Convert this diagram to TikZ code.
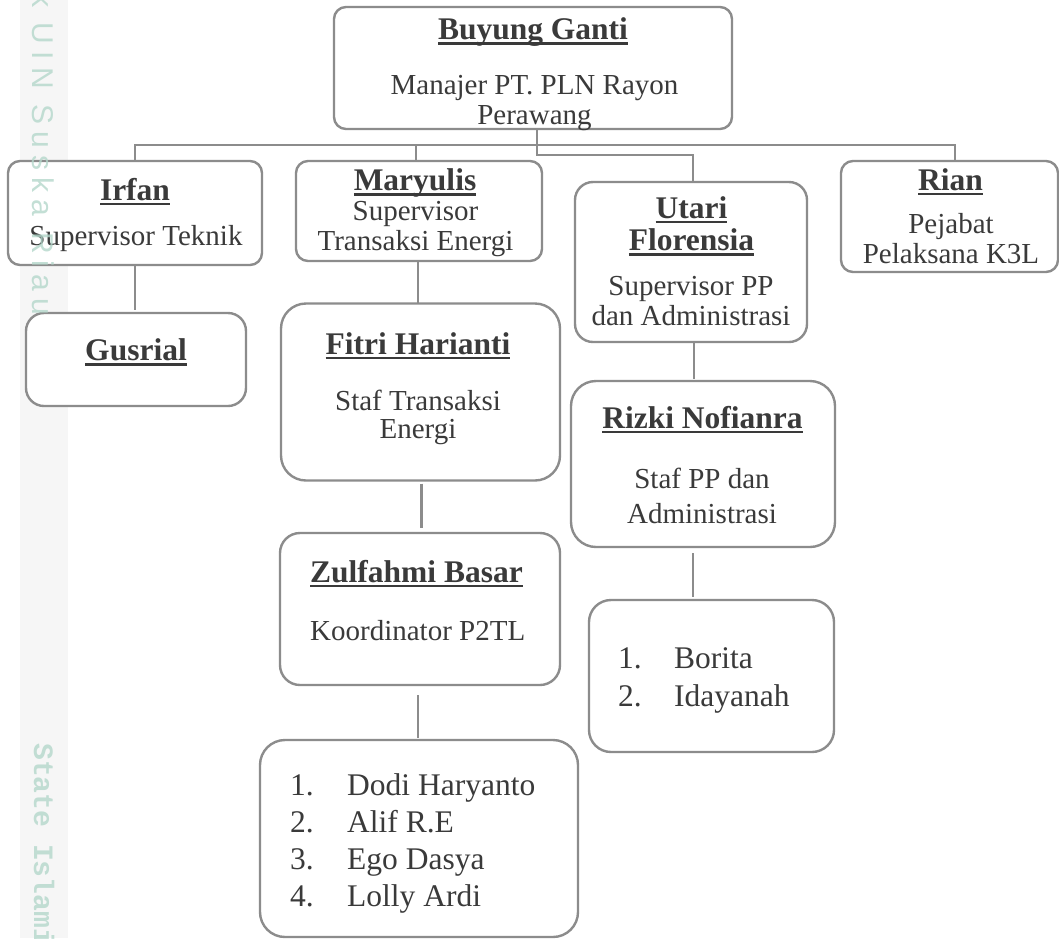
\documentclass[tikz,border=0pt]{standalone}
\usepackage{fontspec}
\setmainfont{Liberation Serif}
\newfontfamily\wmsans[LetterSpace=24]{Liberation Sans}
\newfontfamily\wmmono{Liberation Mono}
\definecolor{txt}{RGB}{58,58,58}
\definecolor{brd}{RGB}{140,140,140}
\definecolor{wmk}{RGB}{180,215,203}
\definecolor{band}{RGB}{246,246,246}
\newcommand\nmul[1]{\setbox0\hbox{#1}\rlap{\copy0}\rule[-5pt]{\wd0}{2.4pt}}
\tikzset{
  box/.style={draw=brd, line width=2.4pt, fill=white, rectangle, inner sep=0pt, outer sep=0pt},
  conn/.style={draw=brd, line width=2.2pt},
  nm/.style={anchor=base, inner sep=0pt, text=txt, font=\fontsize{31.5}{36}\selectfont\bfseries},
  ds/.style={anchor=base, inner sep=0pt, text=txt, font=\fontsize{29}{33}\selectfont},
  li/.style={anchor=base west, inner sep=0pt, text=txt, font=\fontsize{31.5}{36}\selectfont},
  wm/.style={rotate=-90, anchor=base west, inner sep=0pt, text=wmk, text opacity=0.8},
}
\begin{document}
\begin{tikzpicture}[x=1pt,y=-1pt]
\useasboundingbox (0,0) rectangle (1059,938);
\fill[white] (0,0) rectangle (1059,938);
% watermark margin
\fill[band] (20,0) rectangle (68,938);

% boxes
\node[box, rounded corners=12pt, minimum width=398pt, minimum height=122pt] (buy) at (533,68) {};
\node[box, rounded corners=12pt, minimum width=254pt, minimum height=104pt] (irf) at (135,213) {};
\node[box, rounded corners=12pt, minimum width=246pt, minimum height=100pt] (mar) at (419,211) {};
\node[box, rounded corners=18pt, minimum width=232pt, minimum height=160pt] (uta) at (691,262) {};
\node[box, rounded corners=12pt, minimum width=217pt, minimum height=111pt] (rian) at (949.5,216.5) {};
\node[box, rounded corners=18pt, minimum width=220pt, minimum height=93pt] (gus) at (136,359.5) {};
\node[box, rounded corners=25pt, minimum width=279pt, minimum height=177pt] (fit) at (420.5,392) {};
\node[box, rounded corners=25pt, minimum width=264pt, minimum height=166pt] (riz) at (703,464) {};
\node[box, rounded corners=20pt, minimum width=280pt, minimum height=152pt] (zul) at (420,609) {};
\node[box, rounded corners=25pt, minimum width=318pt, minimum height=197pt] (lst1) at (419,838.5) {};
\node[box, rounded corners=22pt, minimum width=245pt, minimum height=152pt] (lst2) at (711.5,676) {};

% connectors
\coordinate (bj) at (537,145);
\coordinate (bk) at (537,155);
\draw[conn] (buy.south -| bk) -- (bk) -| ([xshift=2pt]uta.north);
\draw[conn] (irf.north) |- (bj) -| ([xshift=5.5pt]rian.north);
\draw[conn] ([xshift=-3pt]mar.north) -- ([xshift=-3pt]mar.north |- bj);
\draw[conn, shorten >=3pt] (irf.south) -- (irf.south |- gus.north);
\draw[conn] ([xshift=-1pt]mar.south) -- ([xshift=-1pt]mar.south |- fit.north);
\draw[conn, shorten <=3pt, shorten >=5pt] ([xshift=1pt]fit.south) -- ([xshift=1pt]fit.south |- zul.north);
\draw[conn, shorten <=10pt, shorten >=2pt] ([xshift=-2pt]zul.south) -- ([xshift=-2pt]zul.south |- lst1.north);
\draw[conn, shorten >=2pt] ([xshift=3pt]uta.south) -- ([xshift=3pt]uta.south |- riz.north);
\draw[conn, shorten <=6pt, shorten >=3pt] ([xshift=-10pt]riz.south) -- ([xshift=-10pt]riz.south |- lst2.north);

% texts
\node[nm] (t1) at (533,39.5) {\nmul{Buyung Ganti}};
\node[ds] (t2) at (534.5,94) {Manajer PT. PLN Rayon};
\node[ds] (t3) at (534.5,124) {Perawang};

\node[nm] (t4) at (135,200) {\nmul{Irfan}};
\node[ds] (t5) at (136,245) {Supervisor Teknik};

\node[nm] (t6) at (415,190.5) {\nmul{Maryulis}};
\node[ds] (t7) at (415.5,220.5) {Supervisor};
\node[ds] (t8) at (415.5,250.5) {Transaksi Energi};

\node[nm] (t9) at (691.5,218) {\nmul{Utari}};
\node[nm] (t10) at (691.5,250.5) {\nmul{Florensia}};
\node[ds] (t11) at (691,295) {Supervisor PP};
\node[ds] (t12) at (691,325) {dan Administrasi};

\node[nm] (t13) at (950.5,190) {\nmul{Rian}};
\node[ds] (t14) at (951,233) {Pejabat};
\node[ds] (t15) at (951,263) {Pelaksana K3L};

\node[nm] (t16) at (136,360.5) {\nmul{Gusrial}};

\node[nm] (t17) at (418,354) {\nmul{Fitri Harianti}};
\node[ds] (t18) at (418,410.5) {Staf Transaksi};
\node[ds] (t19) at (418,438) {Energi};

\node[nm] (t20) at (702.5,428) {\nmul{Rizki Nofianra}};
\node[ds] (t21) at (702,488) {Staf PP dan};
\node[ds] (t22) at (702,523) {Administrasi};

\node[nm, anchor=base west] (t23) at (310,582) {\nmul{Zulfahmi Basar}};
\node[ds, anchor=base west] (t24) at (310,640) {Koordinator P2TL};

\node[li] (n1) at (290,795) {1.};
\node[li] (n2) at (290,832.5) {2.};
\node[li] (n3) at (290,869) {3.};
\node[li] (n4) at (290,906.5) {4.};
\node[li] (m1) at (347,795) {Dodi Haryanto};
\node[li] (m2) at (347,832.5) {Alif R.E};
\node[li] (m3) at (347,869) {Ego Dasya};
\node[li] (m4) at (347,906.5) {Lolly Ardi};

\node[li] (n5) at (618,668) {1.};
\node[li] (n6) at (618,706) {2.};
\node[li] (m5) at (674,668) {Borita};
\node[li] (m6) at (674,706) {Idayanah};

% watermark text (drawn over the chart, as in the reference)
\node[wm, font=\fontsize{30}{32}\selectfont\wmsans] (wm1) at (32,-8) {k UIN Suska Riau};
\node[wm, font=\fontsize{28}{30}\selectfont\wmmono\bfseries] (wm2) at (34,743) {State Islamic};
\end{tikzpicture}
\end{document}
